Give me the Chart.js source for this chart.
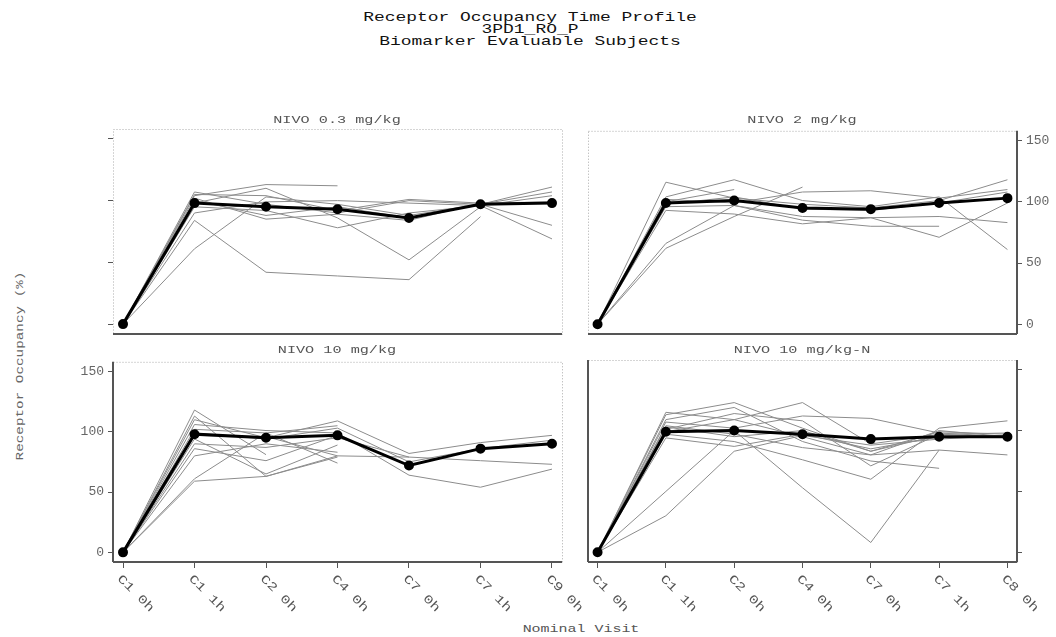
<!DOCTYPE html>
<html>
<head>
<meta charset="utf-8">
<script src="https://cdn.jsdelivr.net/npm/chart.js@4.4.0/dist/chart.umd.min.js"></script>
<style>
body { margin: 0; background: #fff; width: 1056px; height: 637px; position: relative; overflow: hidden;
       font-family: "Liberation Mono", "DejaVu Sans Mono", monospace; }
canvas { position: absolute; }
.t { position: absolute; white-space: nowrap; }
</style>
</head>
<body>

<div class="t" style="left:530px;top:30px;font-size:13px;line-height:12px;color:#111;text-align:center;transform:translate(-50%,-50%) scaleX(1.38);">
Receptor Occupancy Time Profile<br>3PD1_RO_P<br>Biomarker Evaluable Subjects
</div>
<div class="t" id="ytitle" style="left:20px;top:366px;font-size:11px;color:#666;transform:translate(-50%,-50%) rotate(-90deg) scaleX(1.3);">Receptor Occupancy (%)</div>
<div class="t" style="left:581px;top:629px;font-size:11px;color:#555;transform:translate(-50%,-50%) scaleX(1.36);">Nominal Visit</div>

<script>
// categories and ticks
var visitsLeft = ['C1 0h', 'C1 1h', 'C2 0h', 'C4 0h', 'C7 0h', 'C7 1h', 'C9 0h'];
var visitsRight = ['C1 0h', 'C1 1h', 'C2 0h', 'C4 0h', 'C7 0h', 'C7 1h', 'C8 0h'];
var yTicks = [0, 50, 100, 150];

// NIVO 0.3 mg/kg
var mean03 = [0, 98, 95, 93, 86, 97, 98];
var subj03 = [
    [0, 104, 113, 112, null, null, null],
    [0, 84, 42, 39, 36, 87, null],
    [0, 61, 103, 97, 88, 97, 80],
    [0, 107, 97, 90, 100, 97, 111],
    [0, 100, 88, 95, 86, 97, 107],
    [0, 98, 110, 86, 52, 95, null],
    [0, 95, 92, 78, 90, 96, 69],
    [0, 102, 85, 89, 84, 98, 99],
    [0, 90, 99, 100, 98, 96, 104],
    [0, 105, 104, 92, 101, 98, null]
];

// NIVO 2 mg/kg
var mean2 = [0, 99, 101, 95, 94, 99, 103];
var subj2 = [
    [0, 116, 103, 98, 95, 101, 118],
    [0, 62, 88, 112, null, null, null],
    [0, 66, 97, 88, 87, 71, 99],
    [0, 104, 118, 101, 96, 104, 61],
    [0, 100, 110, null, null, null, null],
    [0, 102, 99, 108, 109, 103, 110],
    [0, 96, 97, 85, 80, 80, null],
    [0, 93, 90, 82, 87, 88, 83],
    [0, 98, 104, 94, 93, 99, 108]
];

// NIVO 10 mg/kg
var mean10 = [0, 98, 95, 97, 72, 86, 90];
var subj10 = [
    [0, 118, 81, null, null, null, null],
    [0, 113, 63, 80, 79, null, null],
    [0, 110, 95, 109, 82, 91, 97],
    [0, 106, 101, 99, 64, 54, 69],
    [0, 102, 99, 74, null, null, null],
    [0, 99, 94, 103, 75, 86, 93],
    [0, 94, 65, 89, null, null, null],
    [0, 90, 87, 95, 79, 76, 73],
    [0, 86, 76, 97, null, null, null],
    [0, 80, 90, 83, null, null, null],
    [0, 61, 99, 105, null, null, null],
    [0, 59, 63, 79, null, null, null],
    [0, 97, 96, 80, null, null, null]
];

// NIVO 10 mg/kg-N
var mean10N = [0, 99, 100, 97, 93, 95, 95];
var subj10N = [
    [0, 115, 109, 123, 89, 97, 95],
    [0, 113, 123, 102, 83, 96, null],
    [0, 109, 119, 91, 75, 69, null],
    [0, 107, 102, 112, 110, 98, 95],
    [0, 104, 97, 86, 80, 84, 80],
    [0, 101, 114, 108, 71, 97, 98],
    [0, 97, 91, 76, 60, 102, 108],
    [0, 94, 87, 97, 85, 95, 95],
    [0, 50, 100, 53, 8, 84, null],
    [0, 30, 83, 96, 88, 93, 96],
    [0, 103, 95, 100, 83, 99, 97],
    [0, 99, 109, 95, 80, 100, 95]
];

var FONT = '"Liberation Mono", "DejaVu Sans Mono", monospace';

// draws the dotted/solid panel frame and the slanted visit labels
var framePlugin = {
    id: 'frame',
    afterDraw: function (chart, args, opts) {
        var ctx = chart.ctx;
        var a = chart.chartArea;
        ctx.save();
        ctx.strokeStyle = '#aaa';
        ctx.lineWidth = 1;
        ctx.setLineDash([1, 2]);
        ctx.strokeRect(a.left + 0.5, a.top + 0.5, a.right - a.left, a.bottom - a.top);
        ctx.setLineDash([]);
        ctx.strokeStyle = '#555';
        ctx.lineWidth = 2;
        ctx.beginPath();
        opts.solid.forEach(function (side) {
            if (side === 'bottom') { ctx.moveTo(a.left, a.bottom); ctx.lineTo(a.right, a.bottom); }
            if (side === 'left') { ctx.moveTo(a.left, a.top); ctx.lineTo(a.left, a.bottom); }
            if (side === 'right') { ctx.moveTo(a.right, a.top); ctx.lineTo(a.right, a.bottom); }
        });
        ctx.stroke();

        if (opts.labels) {
            ctx.fillStyle = '#555';
            ctx.font = '12px ' + FONT;
            ctx.textAlign = 'left';
            ctx.textBaseline = 'middle';
            opts.labels.forEach(function (lab, i) {
                var x = chart.scales.x.getPixelForValue(i);
                ctx.save();
                ctx.translate(x - 4, a.bottom + 15);
                ctx.rotate(Math.PI / 4);
                ctx.scale(1.3, 1);
                ctx.fillText(lab, 0, 0);
                ctx.restore();
            });
        }
        ctx.restore();
    }
};

function toPoints(arr) {
    return arr.map(function (v, i) { return { x: i, y: v }; });
}

function makePanel(id, box, mean, subjects, cfg) {
    var cv = document.getElementById(id);
    var w = (box.r - box.l) + 120;
    var h = (box.b - box.t) + 90;
    cv.width = w; cv.height = h;
    cv.style.left = (box.l - 60) + 'px';
    cv.style.top = (box.t - 10) + 'px';

    var datasets = [{
        data: toPoints(mean),
        borderColor: '#000',
        backgroundColor: '#000',
        borderWidth: 3,
        pointRadius: 3.5,
        pointBackgroundColor: '#000',
        order: 0
    }];
    subjects.forEach(function (s) {
        datasets.push({
            data: toPoints(s),
            borderColor: '#8c8c8c',
            borderWidth: 1,
            pointRadius: 0,
            order: 1
        });
    });

    var pad = { top: 10, bottom: 10, left: cfg.yPos === 'left' ? 0 : 60, right: cfg.yPos === 'right' ? 0 : 60 };

    return new Chart(cv.getContext('2d'), {
        type: 'line',
        data: { datasets: datasets },
        options: {
            responsive: false,
            animation: false,
            layout: { padding: pad },
            elements: { line: { tension: 0 } },
            plugins: {
                legend: { display: false },
                tooltip: { enabled: false },
                frame: { solid: cfg.solid, labels: cfg.xLabels }
            },
            scales: {
                x: {
                    type: 'linear',
                    min: -0.14, max: 6.14,
                    afterBuildTicks: function (s) { s.ticks = [0, 1, 2, 3, 4, 5, 6].map(function (v) { return { value: v }; }); },
                    afterFit: function (s) { s.height = 70; },
                    border: { display: false },
                    grid: { display: !!cfg.xLabels, drawOnChartArea: false, tickLength: 6, color: '#555' },
                    ticks: { display: false }
                },
                y: {
                    type: 'linear',
                    position: cfg.yPos,
                    min: -8, max: 158,
                    afterBuildTicks: function (s) { s.ticks = yTicks.map(function (v) { return { value: v }; }); },
                    afterFit: function (s) { s.width = 60; },
                    border: { display: false },
                    grid: { drawOnChartArea: false, tickLength: 5, color: '#555' },
                    ticks: { display: cfg.yLabels, color: '#666', padding: 4, font: { family: FONT, size: 13 } }
                }
            }
        },
        plugins: [framePlugin]
    });
}
</script>

<canvas id="p1"></canvas>
<canvas id="p2"></canvas>
<canvas id="p3"></canvas>
<canvas id="p4"></canvas>

<div class="t" style="left:337px;top:120px;font-size:11px;color:#555;transform:translate(-50%,-50%) scaleX(1.38);">NIVO 0.3 mg/kg</div>
<div class="t" style="left:802px;top:120px;font-size:11px;color:#555;transform:translate(-50%,-50%) scaleX(1.38);">NIVO 2 mg/kg</div>
<div class="t" style="left:337px;top:350px;font-size:11px;color:#555;transform:translate(-50%,-50%) scaleX(1.38);">NIVO 10 mg/kg</div>
<div class="t" style="left:802px;top:350px;font-size:11px;color:#555;transform:translate(-50%,-50%) scaleX(1.38);">NIVO 10 mg/kg-N</div>

<script>
document.addEventListener('DOMContentLoaded', function () {
    makePanel('p1', { l: 113, t: 129, r: 562, b: 334 }, mean03, subj03,
        { yPos: 'left', yLabels: false, solid: ['bottom'], xLabels: null });
    makePanel('p2', { l: 588, t: 129, r: 1017, b: 334 }, mean2, subj2,
        { yPos: 'right', yLabels: true, solid: ['bottom', 'right'], xLabels: null });
    makePanel('p3', { l: 113, t: 360, r: 562, b: 562 }, mean10, subj10,
        { yPos: 'left', yLabels: true, solid: ['bottom', 'left'], xLabels: visitsLeft });
    makePanel('p4', { l: 588, t: 360, r: 1017, b: 562 }, mean10N, subj10N,
        { yPos: 'right', yLabels: false, solid: ['bottom', 'left', 'right'], xLabels: visitsRight });
});
</script>
</body>
</html>
